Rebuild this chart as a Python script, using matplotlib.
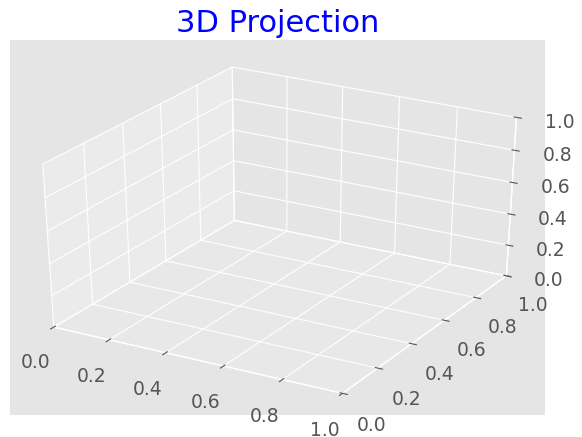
import matplotlib
matplotlib.use("Agg")
import matplotlib.pyplot as plt

plt.style.use("ggplot")

title_text = "3D Projection"
x_limits = [0.0, 1.0]
y_limits = [0.0, 1.0]
z_limits = [0.0, 1.0]
tick_values = [0.0, 0.2, 0.4, 0.6, 0.8, 1.0]

fig = plt.figure(figsize=(5.82, 4.37), dpi=100)
ax = fig.add_axes([10 / 582, 22 / 437, 535 / 582, 375 / 437], projection="3d")
# let the 3D panel fill the whole rectangle instead of a square box
ax.apply_aspect = lambda position=None: None
ax.set_box_aspect((3.75, 4, 3))

ax.set_xlim(x_limits)
ax.set_ylim(y_limits)
ax.set_zlim(z_limits)
ax.set_xticks(tick_values)
ax.set_yticks(tick_values)
ax.set_zticks(tick_values)
ax.tick_params(labelsize=13.5, pad=8.5)
ax.set_title(title_text, color="blue", fontsize=22, pad=6)

fig.savefig("out.png", dpi=100)
